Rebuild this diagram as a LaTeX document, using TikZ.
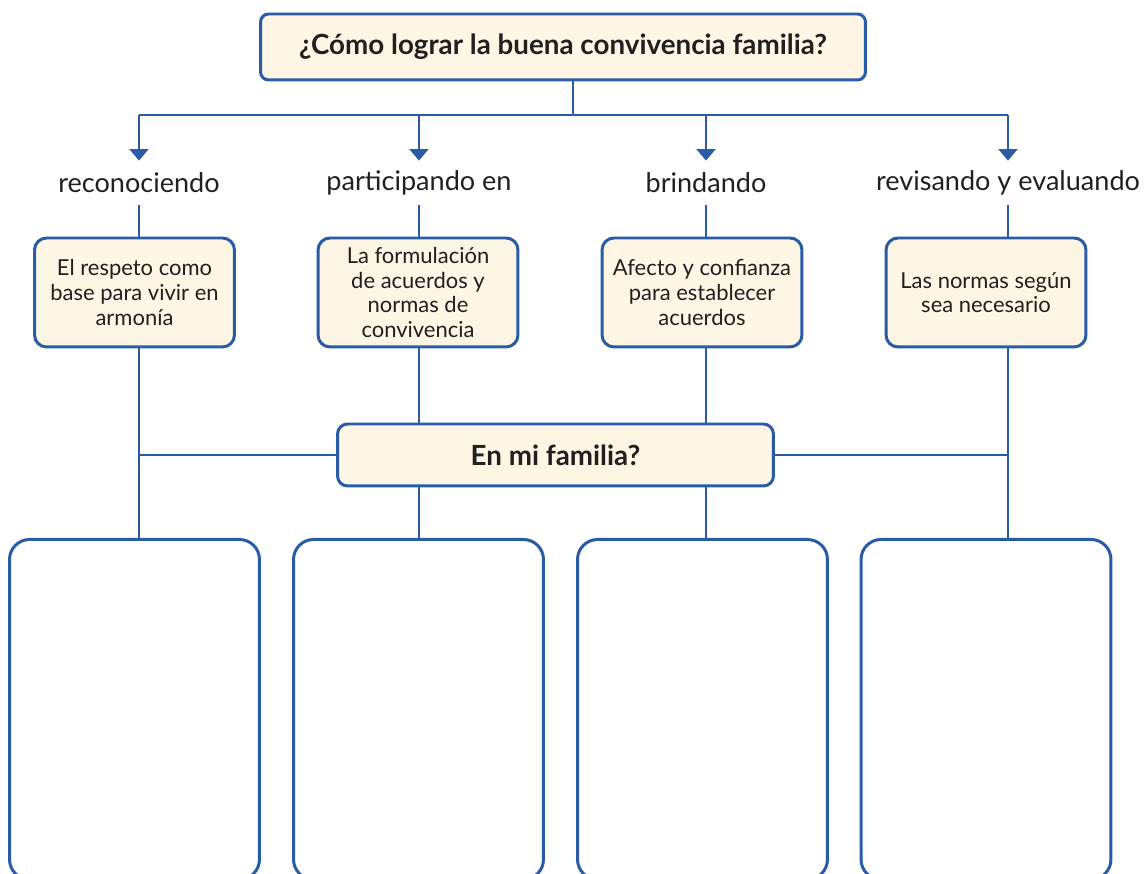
\documentclass[tikz,border=0pt]{standalone}
\usepackage{fontspec}
\setmainfont{Lato}
\usetikzlibrary{arrows.meta}

\definecolor{mapblue}{HTML}{2A5BA7}
\definecolor{mapcream}{HTML}{FDF6E4}
\definecolor{maptext}{HTML}{231F20}

\tikzset{
	link/.style={draw=mapblue, line width=1.7pt},
	arrowlink/.style={link, -{Triangle[width=10.5pt,length=6.5pt]}},
	titlebox/.style={draw=mapblue, line width=1.7pt, fill=mapcream, rounded corners=0.16cm,
		minimum width=12.1cm, minimum height=1.32cm, text=maptext,
		font=\bfseries\fontsize{15.8}{18}\selectfont},
	verb/.style={inner sep=0pt, minimum height=0.88cm, text=maptext,
		font=\fontsize{15.4}{18}\selectfont},
	ideabox/.style={draw=mapblue, line width=1.7pt, fill=mapcream, rounded corners=0.24cm,
		minimum width=4.0cm, minimum height=2.18cm, align=center, text=maptext,
		font=\fontsize{12.5}{14}\selectfont},
	familybox/.style={draw=mapblue, line width=1.7pt, fill=mapcream, rounded corners=0.2cm,
		minimum width=8.72cm, minimum height=1.24cm, text=maptext,
		font=\bfseries\fontsize{15.8}{18}\selectfont},
	answerbox/.style={draw=mapblue, line width=1.7pt, fill=white, rounded corners=0.4cm,
		minimum width=5.0cm, minimum height=6.8cm, anchor=north}
}

\begin{document}
\begin{tikzpicture}[x=0.02cm, y=-0.02cm]
	\useasboundingbox (0,0) rectangle (1144,874);
	
	% question
	\node[titlebox] (question) at (563,47) {¿Cómo lograr la buena convivencia familia?};
	
	% branch bar
	\coordinate (stem) at (573,115);
	\coordinate (bar1) at (139,115);
	\coordinate (bar2) at (419,115);
	\coordinate (bar3) at (706,115);
	\coordinate (bar4) at (1008,115);
	\draw[link] (question.south -| stem) -- (stem);
	\draw[link] (bar1) -- (bar4);
	
	% verbs
	\node[verb] (reconociendo) at (139,183) {reconociendo};
	\node[verb] (participando) at (419,183) {participando en};
	\node[verb] (brindando) at (706,183) {brindando};
	\node[verb] (revisando) at (1008,183) {revisando y evaluando};
	
	\draw[arrowlink] (bar1) -- (reconociendo.north);
	\draw[arrowlink] (bar2) -- (participando.north);
	\draw[arrowlink] (bar3) -- (brindando.north);
	\draw[arrowlink] (bar4) -- (revisando.north);
	
	% ideas
	\node[ideabox] (respeto) at (134.5,292.5) {El respeto como\\base para vivir en\\armonía};
	\node[ideabox] (acuerdos) at (418,292.5) {La formulación\\de acuerdos y\\normas de\\convivencia};
	\node[ideabox] (afecto) at (702,292.5) {Afecto y confianza\\para establecer\\acuerdos};
	\node[ideabox] (normas) at (986,292.5) {Las normas según\\sea necesario};
	
	\draw[link] (reconociendo.south) -- (reconociendo.south |- respeto.north);
	\draw[link] (participando.south) -- (participando.south |- acuerdos.north);
	\draw[link] (brindando.south) -- (brindando.south |- afecto.north);
	\draw[link] (revisando.south) -- (revisando.south |- normas.north);
	
	% family
	\node[familybox] (familia) at (555.5,455) {En mi familia?};
	
	% answers
	\node[answerbox] (answer1) at (134.5,538) {};
	\node[answerbox] (answer2) at (418.5,538) {};
	\node[answerbox] (answer3) at (702.5,538) {};
	\node[answerbox] (answer4) at (986,538) {};
	
	%draw columns
	\draw[link] (respeto.south -| reconociendo) -- (answer1.north -| reconociendo);
	\draw[link] (acuerdos.south -| participando) -- (familia.north -| participando);
	\draw[link] (familia.south -| participando) -- (answer2.north -| participando);
	\draw[link] (afecto.south -| brindando) -- (familia.north -| brindando);
	\draw[link] (familia.south -| brindando) -- (answer3.north -| brindando);
	\draw[link] (normas.south -| revisando) -- (answer4.north -| revisando);
	
	%draw sides
	\draw[link] (familia.west) -- (familia.west -| reconociendo);
	\draw[link] (familia.east) -- (familia.east -| revisando);
	
\end{tikzpicture}
\end{document}
